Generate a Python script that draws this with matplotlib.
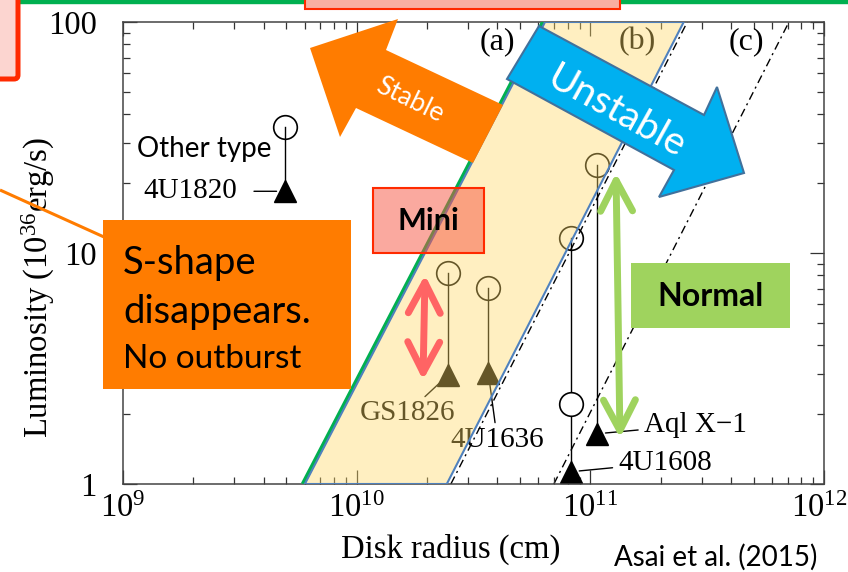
import matplotlib.pyplot as plt
from matplotlib.patches import Polygon, Rectangle, FancyBboxPatch
from matplotlib.ticker import NullFormatter
from matplotlib.transforms import offset_copy, ScaledTranslation

plt.rcParams['font.family'] = ['Liberation Serif', 'DejaVu Serif']
plt.rcParams['mathtext.fontset'] = 'custom'
plt.rcParams['mathtext.rm'] = 'Liberation Serif'

# observed sources: disk radius (cm), luminosity (1e36 erg/s)
names = ['4U1820', 'GS1826', '4U1636', '4U1608', 'Aql X\u22121']
radius = [4.93e9, 2.46e10, 3.66e10, 8.26e10, 1.07e11]
peak_lum = [35.1, 8.17, 7.03, 11.6, 24.0]
quiet_lum = [18.5, 2.96, 3.02, 1.13, 1.65]
second_peak = {'4U1608': 2.21}

# boundary lines: radius where L = 1 and L = 100
lum_ends = [1, 100]
b_left = [6.0e9, 6.4e10]
b_right = [2.43e10, 2.51e11]
crit_ab = [2.53e10, 2.6e11]
crit_bc = [6.98e10, 7.08e11]

xticks = [1e9, 1e10, 1e11, 1e12]
xticklabels = [r'$\mathdefault{10^{9}}$', r'$\mathdefault{10^{10}}$',
               r'$\mathdefault{10^{11}}$', r'$\mathdefault{10^{12}}$']
yticks = [1, 10, 100]
yticklabels = ['1', '10', '100']

W, H = 848, 572
fig = plt.figure(figsize=(W / 100, H / 100), dpi=100)
ax = fig.add_axes([123 / W, 1 - 484 / H, 701 / W, 462 / H])
ax.set_xscale('log')
ax.set_yscale('log')
ax.set_xlim(1e9, 1e12)
ax.set_ylim(1, 100)

ax.set_xticks(xticks, labels=xticklabels)
ax.set_yticks(yticks, labels=yticklabels)
ax.xaxis.set_minor_formatter(NullFormatter())
ax.yaxis.set_minor_formatter(NullFormatter())
ax.tick_params(which='both', direction='in', top=True, right=True,
               color='#333333', width=0.9, labelsize=23.5)
ax.tick_params(which='major', length=10)
ax.tick_params(which='minor', length=5)
ax.tick_params(axis='x', pad=7)
ax.tick_params(axis='y', pad=19)
for s in ax.spines.values():
    s.set_color('#444444')
    s.set_linewidth(1.1)

# keep the last x label inside the canvas
last = ax.get_xticklabels()[-1]
last.set_transform(last.get_transform() +
                   ScaledTranslation(-5 / 100, 0, fig.dpi_scale_trans))

ax.set_xlabel('Disk radius (cm)', fontsize=23.5)
ax.xaxis.set_label_coords(0.468, -0.141)
ax.xaxis.label.set_verticalalignment('center')
ax.set_ylabel(r'Luminosity ($\mathdefault{10^{36}}$erg/s)', fontsize=23.5)
ax.yaxis.set_label_coords(-0.121, 0.426)
ax.yaxis.label.set_verticalalignment('center')

# critical lines
ax.plot(crit_ab, lum_ends, color='black', lw=1, ls=(0, (6, 3, 1.5, 3)), zorder=1)
ax.plot(crit_bc, lum_ends, color='black', lw=1, ls=(0, (6, 3, 1.5, 3)), zorder=1)

# sources
label_pos = {'4U1820': (-68, 0, 10), 'GS1826': (-29.5, -27.5, 1),
             '4U1636': (6.5, -48, 1), '4U1608': (67.7, 6.5, 2),
             'Aql X\u22121': (70.5, 6.5, 2)}
for name, r, hi, lo in zip(names, radius, peak_lum, quiet_lum):
    ax.plot([r, r], [hi, lo], color='black', lw=1, zorder=2)
    ax.plot(r, hi, 'o', ms=17, mfc='none', mec='black', mew=1.2, zorder=2)
    if name in second_peak:
        ax.plot(r, second_peak[name], 'o', ms=17, mfc='white', mec='black',
                mew=1.2, zorder=2)
    ax.plot(r, lo, '^', ms=15.5, color='black', zorder=2)
    dx, dy, sa = label_pos[name]
    ax.annotate(name, xy=(r, lo), xytext=(dx, dy), textcoords='offset points',
                ha='center', va='center', fontsize=21, zorder=2,
                arrowprops=dict(arrowstyle='-', color='black', lw=1,
                                shrinkA=sa, shrinkB=6))

for lab, fx in [('(a)', 0.534), ('(b)', 0.733), ('(c)', 0.889)]:
    ax.text(fx, 0.957, lab, transform=ax.transAxes, fontsize=23,
            ha='center', va='center', zorder=2)

# region (b): translucent band over the data
band = [(b_left[0], lum_ends[0]), (b_right[0], lum_ends[0]),
        (b_right[1], lum_ends[1]), (b_left[1], lum_ends[1])]
ax.add_patch(Polygon(band, closed=True, fc='#FFD966', alpha=0.4, ec='none',
                     zorder=3))
shift = offset_copy(ax.transData, fig=fig, x=-2, y=0, units='dots')
ax.plot(b_left, lum_ends, color='#00B050', lw=3, transform=shift, zorder=4,
        solid_capstyle='butt')
ax.add_patch(Polygon(band, closed=True, fc='none', ec='#4F81BD', lw=1.5,
                     zorder=5))

# slide annotations, laid out in pixels
ov = fig.add_axes([0, 0, 1, 1], zorder=5)
ov.set_xlim(0, W)
ov.set_ylim(H, 0)
ov.axis('off')

orange = '#FF7C00'
sans = ['Lato', 'DejaVu Sans']

ov.add_patch(Rectangle((0, 0), W, 3, color='#00B050'))
ov.add_patch(Rectangle((305, -4), 315, 13, fc='#F9AFA2', ec='#FF2A00', lw=1.5))
ov.add_patch(FancyBboxPatch((-20, -20), 38, 99, fc='#FCD5D0', ec='#FF2A00',
                            lw=3.6, boxstyle='round,pad=0,rounding_size=4'))

ov.plot([0, 104], [190, 237], color=orange, lw=2.2, solid_capstyle='butt')
ov.add_patch(Rectangle((103, 220), 248, 169, fc=orange, ec='none'))
ov.text(123, 274, 'S-shape', fontsize=27.5, family=sans, va='baseline')
ov.text(123, 323, 'disappears.', fontsize=27.5, family=sans, va='baseline')
ov.text(123, 368, 'No outburst', fontsize=24, family=sans, va='baseline')

stable = [(310, 48), (398, 19), (386, 50), (503, 105), (473, 163),
          (356, 108), (340, 137)]
ov.add_patch(Polygon(stable, closed=True, fc=orange, ec='none'))
ov.text(410, 100, 'Stable', fontsize=19, family=sans, color='white',
        rotation=-26, ha='center', va='center', rotation_mode='anchor')

unstable = [(539, 26), (704, 115), (717, 87), (744, 173), (659, 197),
            (674, 170), (507, 79)]
ov.add_patch(Polygon(unstable, closed=True, fc='#00B0F0', ec='#41719C', lw=1.5))
ov.text(617, 112, 'Unstable', fontsize=28, family=sans, color='white',
        rotation=-29, ha='center', va='center', rotation_mode='anchor')

ov.add_patch(Rectangle((373, 188), 111, 65, fc=(0.97, 0.33, 0.25, 0.5),
                       ec='#FF2A00', lw=1.5))
ov.text(428, 221, 'Mini', fontsize=22, family=sans, weight='bold',
        ha='center', va='center')
ov.annotate('', xy=(423, 380), xytext=(425, 275),
            arrowprops=dict(arrowstyle='<->,head_length=2.2,head_width=1.15',
                            lw=5, color='#FF6464', shrinkA=0, shrinkB=0))

ov.add_patch(Rectangle((631, 263), 159, 65, fc='#9FD35E', ec='none'))
ov.text(710, 297, 'Normal', fontsize=23, family=sans, weight='bold',
        ha='center', va='center')
ov.annotate('', xy=(620, 438), xytext=(616, 173),
            arrowprops=dict(arrowstyle='<->,head_length=2.2,head_width=1.15',
                            lw=5, color='#9FD35E', shrinkA=0, shrinkB=0))

ov.text(137, 157, 'Other type', fontsize=20, family=sans, va='baseline')
ov.text(614, 566, 'Asai et al. (2015)', fontsize=20, family=sans, va='baseline')

fig.savefig('out.png', dpi=100)
